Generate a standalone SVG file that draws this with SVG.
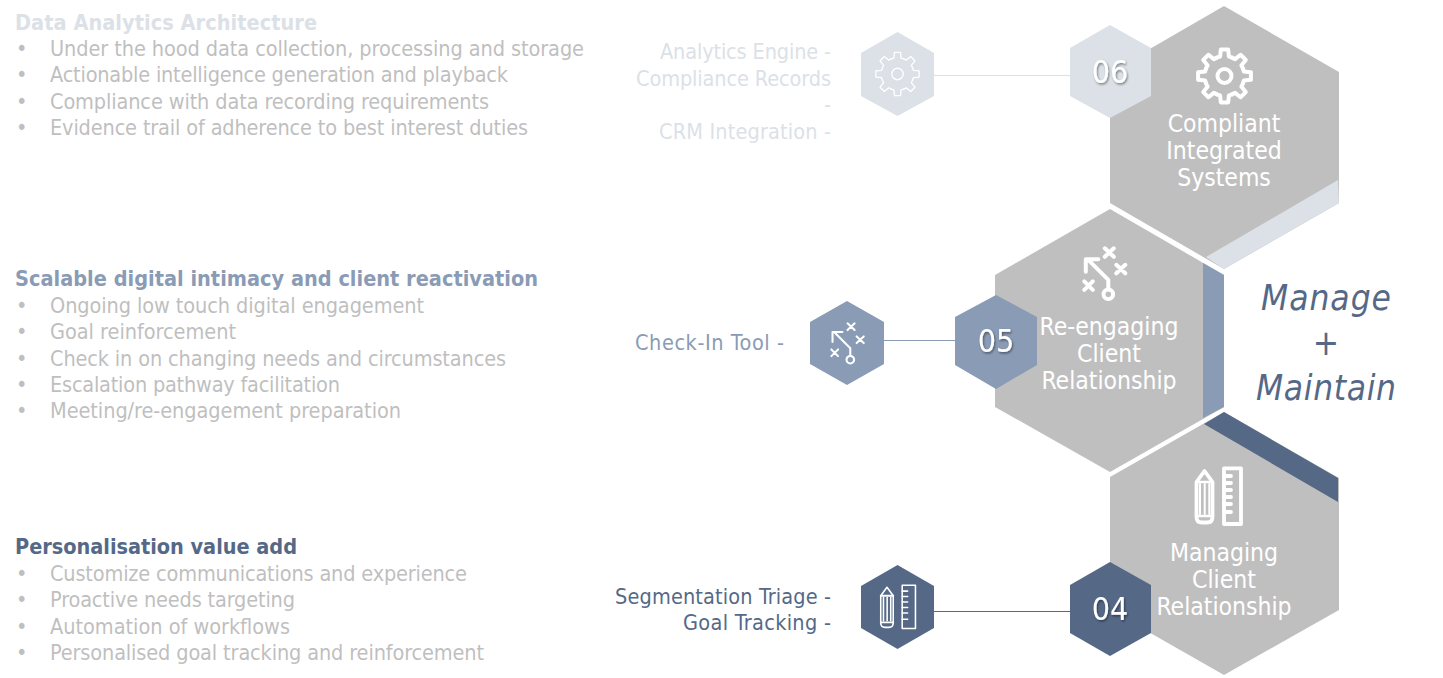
<svg xmlns="http://www.w3.org/2000/svg" width="1443" height="678" viewBox="0 0 1443 678">
<style>
text{font-family:"DejaVu Sans Condensed","Noto Sans","Liberation Sans",sans-serif}
.b{font-size:21.5px;fill:#BFBFBF}
.h{font-size:21.5px;font-weight:700}
.lab{font-size:21.5px;text-anchor:end}
.t{font-size:24.5px;fill:#fff;text-anchor:middle}
.n{font-size:32px;fill:#fff;text-anchor:middle;filter:url(#sh)}
.m{font-size:35px;font-style:italic;fill:#556987;text-anchor:middle}
.big{fill:#BFBFBF}
.pale{fill:#DBE1E7}.mid{fill:#8A9BB5}.dark{fill:#556987}
.pt{fill:#DBE1E7}.mt{fill:#8A9BB5}.dt{fill:#556987}
.ic{fill:none;stroke:#fff;stroke-linecap:round;stroke-linejoin:round}
</style>
<defs>
<filter id="sh" x="-30%" y="-30%" width="160%" height="160%"><feDropShadow dx="1" dy="1.5" stdDeviation="1" flood-color="#000" flood-opacity=".45"/></filter>
<polyline id="seg" points="-7.6,-18.4 -4.4,-19.4 -3.7,-26.4 3.7,-26.4 4.4,-19.4 7.6,-18.4"/>
<g id="gear"><use href="#seg"/><use href="#seg" transform="rotate(45)"/><use href="#seg" transform="rotate(90)"/><use href="#seg" transform="rotate(135)"/><use href="#seg" transform="rotate(180)"/><use href="#seg" transform="rotate(225)"/><use href="#seg" transform="rotate(270)"/><use href="#seg" transform="rotate(315)"/><circle r="7"/></g>
<g id="play"><circle r="4.8"/><path d="M0,-5V-14.500L-20.500,-35M-22.500,-22.500V-35H-10M-3.500,-46L5.500,-37.500M5.500,-46L-3.500,-37.500M8,-29.500L17,-21M17,-29.500L8,-21M-24,-13L-15.500,-4.500M-15.500,-13L-24,-4.500"/></g>
<g id="tools">
<rect x="5" y="-28.600" width="17" height="55.600"/>
<path d="M5,-21H12M5,-14H12M5,-7H12M5,0H12M5,7H12M5,15H12"/>
<path d="M-22.500,-15V20Q-22.500,25.500 -17,25.500H-12Q-6.500,25.500 -6.500,20V-15L-14.500,-26Z"/>
<path d="M-22.500,-15H-6.500M-22.500,19H-6.500" stroke-width="2.400"/>
<path d="M-19,-13V17M-14.300,-13V17M-9.700,-13V17" stroke-width="2"/>
</g>
</defs>
<g id="connectors" fill="none">
<path d="M934,75.500H1070" stroke="#DBE1E7" stroke-width="1"/>
<path d="M884,340.500H955" stroke="#8A9BB5" stroke-width="1"/>
<path d="M934,611.500H1070" stroke="#556987" stroke-width="1"/>
</g>
<g id="text-architecture">
<text x="15" y="30" class="h pt" textLength="302">Data Analytics Architecture</text>
<text x="16" y="56" class="b">•</text><text x="50" y="56" class="b" textLength="534">Under the hood data collection, processing and storage</text>
<text x="16" y="82" class="b">•</text><text x="50" y="82" class="b" textLength="458">Actionable intelligence generation and playback</text>
<text x="16" y="109" class="b">•</text><text x="50" y="109" class="b" textLength="439">Compliance with data recording requirements</text>
<text x="16" y="135" class="b">•</text><text x="50" y="135" class="b" textLength="478">Evidence trail of adherence to best interest duties</text>
</g>
<g id="text-intimacy">
<text x="15" y="286" class="h mt" textLength="523">Scalable digital intimacy and client reactivation</text>
<text x="16" y="313" class="b">•</text><text x="50" y="313" class="b" textLength="374">Ongoing low touch digital engagement</text>
<text x="16" y="339" class="b">•</text><text x="50" y="339" class="b" textLength="186">Goal reinforcement</text>
<text x="16" y="366" class="b">•</text><text x="50" y="366" class="b" textLength="456">Check in on changing needs and circumstances</text>
<text x="16" y="392" class="b">•</text><text x="50" y="392" class="b" textLength="290">Escalation pathway facilitation</text>
<text x="16" y="418" class="b">•</text><text x="50" y="418" class="b" textLength="351">Meeting/re-engagement preparation</text>
</g>
<g id="text-personalisation">
<text x="15" y="554" class="h dt" textLength="282">Personalisation value add</text>
<text x="16" y="581" class="b">•</text><text x="50" y="581" class="b" textLength="417">Customize communications and experience</text>
<text x="16" y="607" class="b">•</text><text x="50" y="607" class="b" textLength="245">Proactive needs targeting</text>
<text x="16" y="634" class="b">•</text><text x="50" y="634" class="b" textLength="240">Automation of workflows</text>
<text x="16" y="660" class="b">•</text><text x="50" y="660" class="b" textLength="434">Personalised goal tracking and reinforcement</text>
</g>
<g id="node-06">
<polygon class="big" points="1224,6 1339,72 1339,203 1224,269 1110,203 1110,72"/>
<polygon class="pale" points="1206,257 1338,180 1339,203 1224,269"/>
<polygon class="pale" points="1070,48 1110,25 1151,48 1151,96 1110,118 1070,96"/>
<text x="1110" y="83" class="n">06</text>
<use href="#gear" transform="translate(1224.500,76)" class="ic" stroke-width="4"/>
<text x="1224" y="132" class="t">Compliant</text><text x="1224" y="159" class="t">Integrated</text><text x="1224" y="186" class="t">Systems</text>
</g>
<g id="icon-06">
<polygon class="pale" points="861,53 897.500,32 934,53 934,96 897.500,116 861,96"/>
<use href="#gear" transform="translate(897.500,74) scale(.82)" class="ic" stroke-width="1.600"/>
<text x="831" y="59" class="lab pt" textLength="171">Analytics Engine -</text>
<text x="831" y="86" class="lab pt" textLength="195">Compliance Records</text>
<text x="831" y="112" class="lab pt">-</text>
<text x="831" y="139" class="lab pt" textLength="172">CRM Integration -</text>
</g>
<g id="node-05">
<polygon class="big" points="1110,209 1224,275 1224,407 1110,472 995,407 995,275"/>
<polygon class="mid" points="1203,263 1224,275 1224,407 1203,418"/>
<polygon class="mid" points="955,317 996,295 1037,317 1037,365 996,389 955,365"/>
<text x="996" y="352" class="n">05</text>
<use href="#play" transform="translate(1108.300,294.300)" class="ic" stroke-width="4"/>
<text x="1109" y="335" class="t">Re-engaging</text><text x="1109" y="362" class="t">Client</text><text x="1109" y="389" class="t">Relationship</text>
</g>
<g id="icon-05">
<polygon class="mid" points="810,322 847,301 884,322 884,364 847,385 810,364"/>
<use href="#play" transform="translate(850.300,359.700) scale(.79)" class="ic" stroke-width="2.600"/>
<text x="784" y="350" class="lab mt" textLength="149">Check-In Tool -</text>
</g>
<g id="node-04">
<polygon class="big" points="1224,412 1339,478 1339,610 1224,675 1110,610 1110,477"/>
<polygon class="dark" points="1204,424 1224,412 1338,478 1338,502"/>
<polygon class="dark" points="1070,585 1110,562 1151,585 1151,633 1110,656 1070,633"/>
<text x="1110" y="620" class="n">04</text>
<use href="#tools" transform="translate(1219,497)" class="ic" stroke-width="3.800"/>
<text x="1224" y="561" class="t">Managing</text><text x="1224" y="588" class="t">Client</text><text x="1224" y="615" class="t">Relationship</text>
</g>
<g id="icon-04">
<polygon class="dark" points="861,586 897.500,565 934,586 934,628 897.500,649 861,628"/>
<use href="#tools" transform="translate(898.300,607.500) scale(.78)" class="ic" stroke-width="2"/>
<text x="831" y="604" class="lab dt" textLength="216">Segmentation Triage -</text>
<text x="831" y="630" class="lab dt" textLength="148">Goal Tracking -</text>
</g>
<g id="label-manage">
<text x="1326" y="310" class="m" textLength="130">Manage</text>
<text x="1326" y="355" class="m">+</text>
<text x="1326" y="400" class="m" textLength="140">Maintain</text>
</g>
</svg>
